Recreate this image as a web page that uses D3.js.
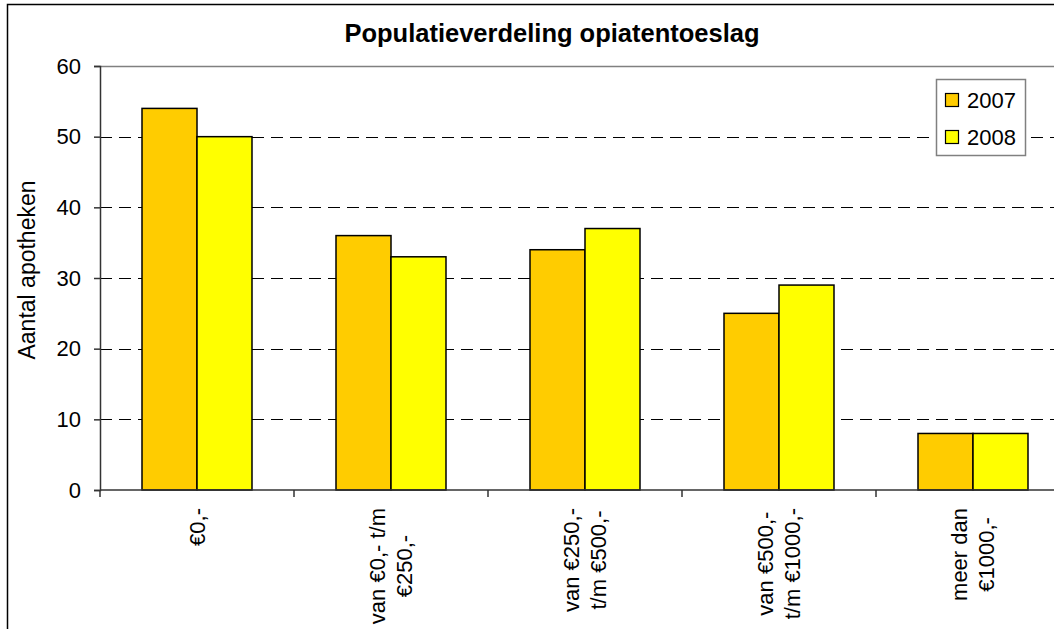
<!DOCTYPE html>
<html>
<head>
<meta charset="utf-8">
<script src="https://cdn.jsdelivr.net/npm/d3@7"></script>
<style>
  html, body { margin: 0; padding: 0; background: #fff; }
  svg { display: block; font-family: "Liberation Sans", Arial, sans-serif; }
</style>
</head>
<body>
<svg id="chart" width="1054" height="629"></svg>
<script>
// Opiate allowance: number of pharmacies per allowance bracket
const categories = [
  ["€0,-"],
  ["van €0,- t/m", "€250,-"],
  ["van €250,-", "t/m €500,-"],
  ["van €500,-", "t/m €1000,-"],
  ["meer dan", "€1000,-"]
];
const seriesNames = ["2007", "2008"];
const values2007 = [54, 36, 34, 25, 8];
const values2008 = [50, 33, 37, 29, 8];
const yTicks = [0, 10, 20, 30, 40, 50, 60];
const colors = ["#FFCC00", "#FFFF00"];

const svg = d3.select("#chart");
const plot = { left: 100, right: 1070, top: 66, bottom: 490 };
const FS = 22;

// outer chart frame
svg.append("rect")
  .attr("x", 7.5).attr("y", 4.5)
  .attr("width", 1100).attr("height", 700)
  .attr("fill", "#fff").attr("stroke", "#000").attr("stroke-width", 1.5);

const x0 = d3.scaleBand()
  .domain(d3.range(categories.length))
  .range([plot.left, plot.right])
  .paddingInner(0.433).paddingOuter(0.2165);
const x1 = d3.scaleBand().domain(seriesNames).range([0, x0.bandwidth()]);
const y = d3.scaleLinear().domain([0, 60]).range([plot.bottom, plot.top]);

const band = (plot.right - plot.left) / categories.length;

// gridlines
svg.append("g").selectAll("line")
  .data(yTicks.filter(t => t > 0 && t < 60))
  .join("line")
  .attr("x1", plot.left).attr("x2", plot.right)
  .attr("y1", d => Math.round(y(d)) + 0.5).attr("y2", d => Math.round(y(d)) + 0.5)
  .attr("stroke", "#000").attr("stroke-width", 1)
  .attr("stroke-dasharray", "12,7");

// top border of the plot area
svg.append("line")
  .attr("x1", plot.left).attr("x2", plot.right)
  .attr("y1", plot.top + 0.5).attr("y2", plot.top + 0.5)
  .attr("stroke", "#808080").attr("stroke-width", 1.5);

// bars
const series = [values2007, values2008];
const groups = svg.append("g").selectAll("g")
  .data(categories.map((c, i) => i))
  .join("g")
  .attr("transform", i => `translate(${x0(i)},0)`);
groups.selectAll("rect")
  .data(i => seriesNames.map((s, k) => ({ s, k, v: series[k][i] })))
  .join("rect")
  .attr("x", d => x1(d.s))
  .attr("width", x1.bandwidth())
  .attr("y", d => y(d.v))
  .attr("height", d => y(0) - y(d.v))
  .attr("fill", d => colors[d.k])
  .attr("stroke", "#000").attr("stroke-width", 1.5);

// y axis
const yAxis = d3.axisLeft(y).tickValues(yTicks).tickSize(6).tickPadding(13);
const gy = svg.append("g").attr("transform", `translate(${plot.left},0)`).call(yAxis);
gy.select(".domain").attr("stroke", "#333").attr("stroke-width", 1.5);
gy.selectAll(".tick line").attr("stroke", "#333").attr("stroke-width", 1.5);
gy.selectAll(".tick text").attr("font-size", FS).attr("fill", "#000")
  .attr("font-family", "Liberation Sans, Arial, sans-serif");

// x axis line and category ticks
svg.append("line")
  .attr("x1", plot.left).attr("x2", plot.right)
  .attr("y1", plot.bottom).attr("y2", plot.bottom)
  .attr("stroke", "#333").attr("stroke-width", 1.5);
svg.append("g").selectAll("line")
  .data(d3.range(categories.length + 1))
  .join("line")
  .attr("x1", i => plot.left + i * band).attr("x2", i => plot.left + i * band)
  .attr("y1", plot.bottom).attr("y2", plot.bottom + 7)
  .attr("stroke", "#333").attr("stroke-width", 1.5);

// rotated category labels: lines centred on each other, block hung below the axis
const lineH = 27;
const labelTop = plot.bottom + 18;
const labels = svg.append("g").selectAll("text")
  .data(categories)
  .join("text")
  .attr("text-anchor", "middle")
  .attr("font-size", FS)
  .attr("fill", "#000");
labels.each(function(c, i) {
  const t = d3.select(this);
  const n = c.length;
  c.forEach((line, j) => {
    t.append("tspan")
      .attr("x", 0)
      .attr("y", (j - (n - 1) / 2) * lineH)
      .attr("dy", "0.35em")
      .text(line);
  });
  let maxLen = 0;
  t.selectAll("tspan").each(function() {
    maxLen = Math.max(maxLen, this.getComputedTextLength());
  });
  t.attr("transform",
    `translate(${x0(i) + x0.bandwidth() / 2},${labelTop + maxLen / 2}) rotate(-90)`);
});

// title
svg.append("text")
  .attr("x", 552).attr("y", 42)
  .attr("text-anchor", "middle")
  .attr("font-size", 25.5).attr("font-weight", "bold")
  .text("Populatieverdeling opiatentoeslag");

// y axis title
svg.append("text")
  .attr("transform", `translate(35,270) rotate(-90)`)
  .attr("text-anchor", "middle")
  .attr("font-size", 23)
  .text("Aantal apotheken");

// legend
const lg = svg.append("g").attr("transform", "translate(936,79)");
lg.append("rect")
  .attr("x", 0.5).attr("y", 0.5).attr("width", 89).attr("height", 76)
  .attr("fill", "#fff").attr("stroke", "#808080").attr("stroke-width", 1.5);
seriesNames.forEach((s, k) => {
  const cy = 21 + k * 37;
  lg.append("rect")
    .attr("x", 9.5).attr("y", cy - 6.5).attr("width", 13).attr("height", 13)
    .attr("fill", colors[k]).attr("stroke", "#000").attr("stroke-width", 1.2);
  lg.append("text")
    .attr("x", 31).attr("y", cy).attr("dy", "0.35em")
    .attr("font-size", FS).text(s);
});
</script>
</body>
</html>
